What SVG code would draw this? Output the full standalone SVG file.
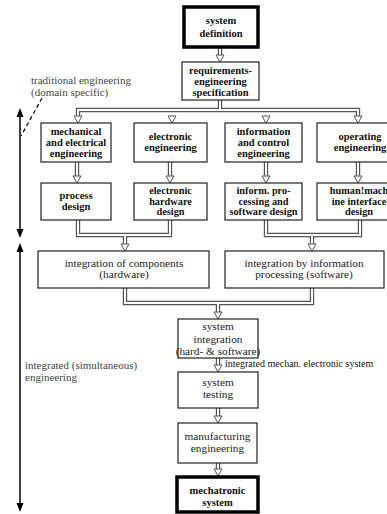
<svg xmlns="http://www.w3.org/2000/svg" width="387" height="514" viewBox="0 0 387 514">
  <style>
    .box { fill: #fff; stroke: #222; stroke-width: 1.2; }
    .thick { fill: #fff; stroke: #000; stroke-width: 3.5; }
    .bt { font-family: "Liberation Serif", "Times New Roman", serif; font-weight: bold; font-size: 10.5px; fill: #111; text-anchor: middle; }
    .bs { font-size: 10.3px; }
    .rt { font-family: "Liberation Serif", "Times New Roman", serif; font-size: 11.3px; fill: #222; text-anchor: middle; }
    .note { font-family: "Liberation Serif", "Times New Roman", serif; font-size: 11px; fill: #444; }
    .outer { fill: none; stroke: #555; stroke-width: 4.4; }
    .inner { fill: none; stroke: #fff; stroke-width: 2; }
    .head { fill: #fff; stroke: #555; stroke-width: 1; }
    .axis { fill: none; stroke: #000; stroke-width: 1.5; }
  </style>
  <defs>
    <!-- hollow arrowhead, tip at origin -->
    <polygon id="hd" class="head" points="-4,-7 4,-7 0,0"/>
  </defs>

  <rect width="387" height="514" fill="#fff"/>

  <!-- double-line connectors -->
  <g id="connectors">
    <path class="outer" d="M220,48 V56 M220,100 V110 M78,117 V110 H358 V117 M77,162 V177 M170,162 V177 M266,162 V177 M358,162 V177 M78,220 V235 H170 V220 M125,235 V244 M266,220 V235 H360 V220 M312,235 V244 M125,288 V303 H312 V288 M218,303 V312 M218,358 V366 M218,408 V417 M218,463 V470"/>
    <path class="inner" d="M220,47 V57 M220,99 V110 M78,118 V110 H358 V118 M77,161 V178 M170,161 V178 M266,161 V178 M358,161 V178 M78,219 V235 H170 V219 M125,235 V245 M266,219 V235 H360 V219 M312,235 V245 M125,287 V303 H312 V287 M218,303 V313 M218,357 V367 M218,407 V418 M218,462 V471"/>
    <use href="#hd" x="220" y="62"/>
    <use href="#hd" x="78" y="123"/>
    <use href="#hd" x="172" y="123"/>
    <use href="#hd" x="266" y="123"/>
    <use href="#hd" x="358" y="123"/>
    <use href="#hd" x="77" y="183"/>
    <use href="#hd" x="170" y="183"/>
    <use href="#hd" x="266" y="183"/>
    <use href="#hd" x="358" y="183"/>
    <use href="#hd" x="125" y="251"/>
    <use href="#hd" x="312" y="251"/>
    <use href="#hd" x="218" y="319"/>
    <use href="#hd" x="218" y="372"/>
    <use href="#hd" x="218" y="423"/>
    <use href="#hd" x="218" y="476"/>
  </g>

  <g id="system-definition">
    <rect class="thick" x="184" y="7" width="74" height="40"/>
    <text class="bt" x="221" y="24" font-size="11">system</text>
    <text class="bt" x="221" y="37" font-size="11">definition</text>
  </g>

  <g id="requirements">
    <rect class="box" x="182" y="62" width="77" height="38"/>
    <text class="bt" x="220.5" y="74">requirements-</text>
    <text class="bt" x="220.5" y="85">engineering</text>
    <text class="bt" x="220.5" y="96">specification</text>
  </g>

  <g id="mech-eng">
    <rect class="box" x="41" y="123" width="70" height="39"/>
    <text class="bt" x="76" y="135">mechanical</text>
    <text class="bt" x="76" y="146">and electrical</text>
    <text class="bt" x="76" y="157">engineering</text>
  </g>

  <g id="electronic-eng">
    <rect class="box" x="134" y="123" width="73" height="39"/>
    <text class="bt" x="170.5" y="140">electronic</text>
    <text class="bt" x="170.5" y="151">engineering</text>
  </g>

  <g id="info-control-eng">
    <rect class="box" x="225" y="123" width="77" height="39"/>
    <text class="bt" x="263.5" y="135">information</text>
    <text class="bt" x="263.5" y="146">and control</text>
    <text class="bt" x="263.5" y="157">engineering</text>
  </g>

  <g id="operating-eng">
    <rect class="box" x="317" y="123" width="85" height="39"/>
    <text class="bt" x="360" y="140">operating</text>
    <text class="bt" x="360" y="151">engineering</text>
  </g>

  <g id="process-design">
    <rect class="box" x="41" y="183" width="70" height="37"/>
    <text class="bt" x="76" y="199">process</text>
    <text class="bt" x="76" y="210">design</text>
  </g>

  <g id="hardware-design">
    <rect class="box" x="134" y="183" width="73" height="37"/>
    <text class="bt bs" x="170.5" y="194">electronic</text>
    <text class="bt bs" x="170.5" y="204.5">hardware</text>
    <text class="bt bs" x="170.5" y="215">design</text>
  </g>

  <g id="software-design">
    <rect class="box" x="225" y="183" width="77" height="37"/>
    <text class="bt bs" x="263.5" y="194">inform. pro-</text>
    <text class="bt bs" x="263.5" y="204.5">cessing and</text>
    <text class="bt bs" x="263.5" y="215">software design</text>
  </g>

  <g id="hmi-design">
    <rect class="box" x="317" y="183" width="85" height="37"/>
    <text class="bt bs" x="359" y="194">human!mach</text>
    <text class="bt bs" x="359" y="204.5">ine interface</text>
    <text class="bt bs" x="359" y="215">design</text>
  </g>

  <g id="hw-integration">
    <rect class="box" x="38" y="251" width="171" height="37"/>
    <text class="rt" x="124" y="267">integration of components</text>
    <text class="rt" x="124" y="278">(hardware)</text>
  </g>

  <g id="sw-integration">
    <rect class="box" x="225" y="251" width="159" height="37"/>
    <text class="rt" x="304" y="267">integration by information</text>
    <text class="rt" x="304" y="278">processing (software)</text>
  </g>

  <g id="system-integration">
    <rect class="box" x="178" y="319" width="80" height="39"/>
    <text class="rt" x="218" y="330">system</text>
    <text class="rt" x="218" y="343">integration</text>
    <text class="rt" x="218" y="355" font-size="8">(hard- &amp; software)</text>
  </g>

  <text id="label-integrated" x="225" y="367" font-family="Liberation Serif, Times New Roman, serif" font-size="10" fill="#111">integrated mechan. electronic system</text>

  <g id="system-testing">
    <rect class="box" x="178" y="372" width="80" height="36"/>
    <text class="rt" x="218" y="386">system</text>
    <text class="rt" x="218" y="398">testing</text>
  </g>

  <g id="manufacturing">
    <rect class="box" x="178" y="423" width="79" height="40"/>
    <text class="rt" x="217.5" y="440">manufacturing</text>
    <text class="rt" x="217.5" y="452">engineering</text>
  </g>

  <g id="mechatronic-system">
    <rect class="thick" x="177" y="477" width="81" height="35"/>
    <text class="bt" x="217.5" y="494" font-size="11">mechatronic</text>
    <text class="bt" x="217.5" y="506" font-size="11">system</text>
  </g>

  <!-- phase axis on the left -->
  <g id="phase-axis">
    <line class="axis" x1="20" y1="114" x2="20" y2="232"/>
    <polygon points="20,108 16.5,117 23.5,117" fill="#000"/>
    <polygon points="20,238 16.5,229 23.5,229" fill="#000"/>
    <line class="axis" x1="20" y1="248" x2="20" y2="506"/>
    <polygon points="20,243 16.5,252 23.5,252" fill="#000"/>
    <polygon points="20,512 16.5,503 23.5,503" fill="#000"/>
    <line x1="42" y1="98" x2="21" y2="136" stroke="#000" stroke-width="1.2" stroke-dasharray="4,3"/>
    <text class="note" x="31" y="84">traditional engineering</text>
    <text class="note" x="31" y="96">(domain specific)</text>
    <text class="note" x="25" y="369">integrated (simultaneous)</text>
    <text class="note" x="25" y="381">engineering</text>
  </g>
</svg>
